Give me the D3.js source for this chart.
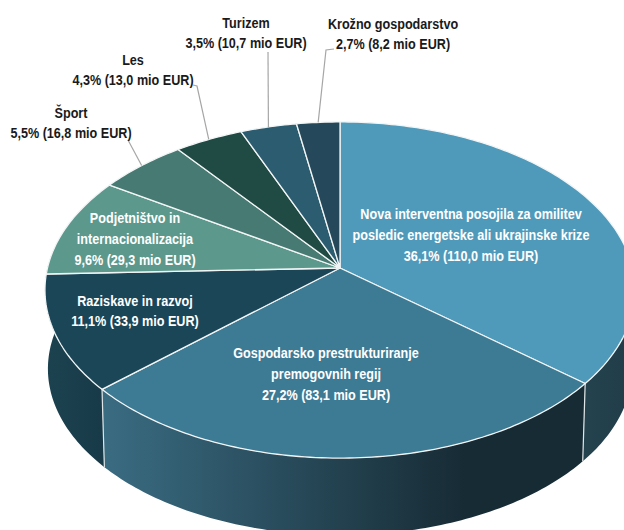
<!DOCTYPE html>
<html>
<head>
<meta charset="utf-8">
<script src="https://cdn.jsdelivr.net/npm/d3@7"></script>
<style>
html, body { margin: 0; padding: 0; background: #fff; }
svg { display: block; }
text { font-family: "Liberation Sans", sans-serif; font-weight: bold; font-size: 14.5px; text-anchor: middle; }
</style>
</head>
<body>
<svg width="624" height="530"></svg>
<script>
var names = ["Nova interventna posojila", "Gospodarsko prestrukturiranje", "Raziskave in razvoj", "Podjetništvo in internacionalizacija", "Šport", "Les", "Turizem", "Krožno gospodarstvo"];
var values = [110.0, 83.1, 33.9, 29.3, 16.8, 13.0, 10.7, 8.2];
var topColors = ["#4f9aba", "#3d7a94", "#1b4658", "#5c988c", "#477a72", "#204a44", "#2b5c70", "#25495a"];
var sideLeft = ["#24434f", "#3a6c82", "#1c4250"];
var sideRight = ["#203c48", "#172b35", "#183a48"];

// text lines, position of the middle line
var labels = [
    { lines: ["Nova interventna posojila za omilitev", "posledic energetske ali ukrajinske krize", "36,1% (110,0 mio EUR)"], x: 471, y: 235, fill: "#fff" },
    { lines: ["Gospodarsko prestrukturiranje", "premogovnih regij", "27,2% (83,1 mio EUR)"], x: 326, y: 374, fill: "#fff" },
    { lines: ["Raziskave in razvoj", "11,1% (33,9 mio EUR)"], x: 135, y: 311, fill: "#fff" },
    { lines: ["Podjetništvo in", "internacionalizacija", "9,6% (29,3 mio EUR)"], x: 135, y: 239, fill: "#fff" },
    { lines: ["Šport", "5,5% (16,8 mio EUR)"], x: 71, y: 123, fill: "#1a1a1a" },
    { lines: ["Les", "4,3% (13,0 mio EUR)"], x: 133, y: 70, fill: "#1a1a1a" },
    { lines: ["Turizem", "3,5% (10,7 mio EUR)"], x: 246, y: 33, fill: "#1a1a1a" },
    { lines: ["Krožno gospodarstvo", "2,7% (8,2 mio EUR)"], x: 393, y: 34, fill: "#1a1a1a" }
];
// first points of the leader lines, the last point is on the slice edge
var leaders = { 4: [[128, 140]], 5: [[193, 85], [197, 86]], 6: [[268, 52]], 7: [[334, 49], [326, 50]] };

var svg = d3.select("svg");
var defs = svg.append("defs");

var pie = d3.pie().sort(null).value(function (d) { return d; });
var arcs = pie(values);

// perspective projection of the tilted pie, a is radians clockwise from the top
var k = 0.131;
function project(a, ox, oy, s) {
    var X = Math.sin(a), Y = Math.cos(a), w = 1 + k * Y;
    return [ox + s * 292.5 * X / w, oy - s * 165.2 * Y / w];
}
function topPt(a) { return project(a, 340, 268, 1); }
function botPt(a) { return project(a, 340, 347, 0.99); }

var line = d3.line();
function arcPts(f, a0, a1) {
    var n = Math.max(2, Math.ceil((a1 - a0) * 60)), out = [];
    d3.range(n + 1).forEach(function (i) { out.push(f(a0 + (a1 - a0) * i / n)); });
    return out;
}

// side wall, only the front part can be seen. The third slice wall runs on
// to the left silhouette, the fourth slice has no visible wall of its own
var frontStart = 1.42, frontEnd = 4.8;
var sides = arcs.slice(0, 3).map(function (d, i) {
    return { i: i, a0: Math.max(d.startAngle, frontStart), a1: i == 2 ? frontEnd : d.endAngle };
});

sides.forEach(function (d) {
    var g = defs.append("linearGradient").attr("id", "side" + d.i);
    g.append("stop").attr("offset", 0).attr("stop-color", sideLeft[d.i]);
    g.append("stop").attr("offset", d.i == 1 ? 0.75 : 1).attr("stop-color", sideRight[d.i]);
});

svg.append("g").selectAll("path")
    .data(sides)
    .enter().append("path")
    .attr("d", function (d) {
        return line(arcPts(topPt, d.a0, d.a1).concat(arcPts(botPt, d.a0, d.a1).reverse())) + "Z";
    })
    .attr("fill", function (d) { return "url(#side" + d.i + ")"; });

// white seams between the side walls
svg.append("g").selectAll("line")
    .data(arcs.slice(1, 3))
    .enter().append("line")
    .attr("x1", function (d) { return topPt(d.startAngle)[0]; })
    .attr("y1", function (d) { return topPt(d.startAngle)[1]; })
    .attr("x2", function (d) { return botPt(d.startAngle)[0]; })
    .attr("y2", function (d) { return botPt(d.startAngle)[1]; })
    .attr("stroke", "#dfe6e8")
    .attr("stroke-width", 1.2);

// top face
svg.append("g").selectAll("path")
    .data(arcs)
    .enter().append("path")
    .attr("d", function (d) {
        return line([[340, 268]].concat(arcPts(topPt, d.startAngle, d.endAngle))) + "Z";
    })
    .attr("fill", function (d, i) { return topColors[i]; })
    .attr("stroke", "#f2f5f5")
    .attr("stroke-width", 1.3)
    .attr("stroke-linejoin", "round");

// leader lines
svg.append("g").selectAll("path")
    .data(arcs.filter(function (d) { return leaders[d.index]; }))
    .enter().append("path")
    .attr("d", function (d) {
        return line(leaders[d.index].concat([topPt((d.startAngle + d.endAngle) / 2)]));
    })
    .attr("fill", "none")
    .attr("stroke", "#a6a6a6")
    .attr("stroke-width", 1.2);

// the original font is narrower than what is installed, so squeeze it
var lineH = 20.7, squeeze = 0.87;
var label = svg.append("g").selectAll("text")
    .data(labels)
    .enter().append("text")
    .attr("transform", function (d) { return "translate(" + d.x + ",0) scale(" + squeeze + ",1)"; })
    .attr("fill", function (d) { return d.fill; });
label.selectAll("tspan")
    .data(function (d) {
        return d.lines.map(function (t, j) {
            return { t: t, y: d.y + (j - (d.lines.length - 1) / 2) * lineH + 5 };
        });
    })
    .enter().append("tspan")
    .attr("x", 0)
    .attr("y", function (d) { return d.y; })
    .text(function (d) { return d.t; });
</script>
</body>
</html>
